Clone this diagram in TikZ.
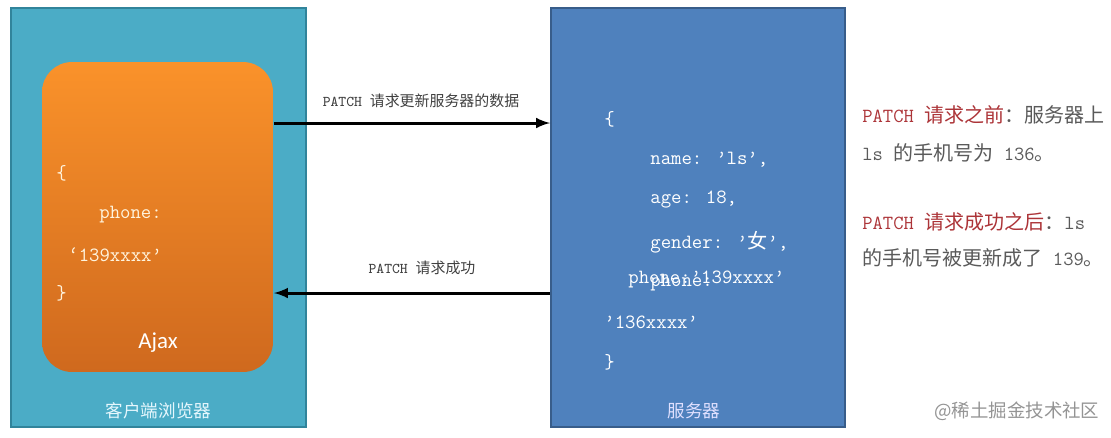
\documentclass[tikz,border=0pt]{standalone}
\usepackage{fontspec}
\newfontfamily\zhfont{Noto Sans CJK SC}
\newfontfamily\calfont{Carlito}
\usepackage{xcolor}
\usepackage{tikz}
\usetikzlibrary{shapes,arrows,positioning}

\definecolor{clientblue}{RGB}{75,172,198}
\definecolor{clientedge}{RGB}{49,132,155}
\definecolor{serverblue}{RGB}{79,129,189}
\definecolor{serveredge}{RGB}{56,93,138}
\definecolor{ajaxtop}{RGB}{250,146,42}
\definecolor{ajaxbottom}{RGB}{207,105,30}
\definecolor{notered}{RGB}{172,52,56}
\definecolor{notegray}{RGB}{90,90,90}
\definecolor{cream}{RGB}{255,244,222}

\newcommand\zhtext[1]{{\zhfont #1}}

\begin{document}
\begin{tikzpicture}[
        x=0.02cm, y=-0.02cm,
        box/.style={
            line width=0.4mm,
            inner sep=0
        },
        boxname/.style={
            text=white!90!cyan,
            font=\zhfont\fontsize{10}{12}\selectfont
        },
        code/.style={
            anchor=west,
            inner sep=0,
            text=white,
            font=\ttfamily\fontsize{11.5}{14}\selectfont
        },
        flow/.style={
            -latex,
            line width=0.6mm
        },
        flowlabel/.style={
            text=black!75,
            font=\fontsize{8.5}{10}\selectfont
        },
        note/.style={
            anchor=west,
            inner sep=0,
            text=notegray,
            font=\fontsize{11.4}{14}\selectfont
        }
    ]
                \useasboundingbox (0,0) rectangle (1111,437);

                % client side
                \node[
                    box,
                    draw=clientedge,
                    fill=clientblue,
                    minimum width=5.9cm,
                    minimum height=8.38cm
                    ] (client) at (158.5,217.5) {};
                \node[boxname] (clientname) at (158.5,411) {客户端浏览器};

                \node[
                    box,
                    rounded corners=0.6cm,
                    top color=ajaxtop,
                    bottom color=ajaxbottom,
                    minimum width=4.62cm,
                    minimum height=6.2cm
                    ] (ajax) at (157.5,217) {};
                \node[text=white, font=\calfont\fontsize{13}{15}\selectfont] (ajaxname) at (158,343) {Ajax};

                \node[code, text=cream] (lopen) at (56,173) {\{};
                \node[code, text=cream] (lphone) at (99,215) {phone:};
                \node[code, text=cream] (lnumber) at (68,255) {‘139xxxx’};
                \node[code, text=cream] (lclose) at (56,293) {\}};

                % server side
                \node[
                    box,
                    draw=serveredge,
                    fill=serverblue,
                    minimum width=5.88cm,
                    minimum height=8.38cm
                    ] (server) at (698,217.5) {};
                \node[boxname, text=white!88!blue] (servername) at (694,411) {服务器};

                \node[code] (sopen) at (604,119) {\{};
                \node[code] (sname) at (650,160) {name: ’ls’,};
                \node[code] (sage) at (650,200) {age: 18,};
                \node[code] (sgender) at (650,242) {gender: ’\zhtext{女}’,};
                \node[code] (snewphone) at (628,279) {phone:’139xxxx’};
                \node[code] (soldphone) at (650,283) {phone:};
                \node[code] (soldnumber) at (604,322) {’136xxxx’};
                \node[code] (sclose) at (604,362) {\}};

                % requests
                \draw[flow] (ajax.east |- 0,123) to (server.west |- 0,123);
                \node[flowlabel] (request) at (421,101) {\texttt{PATCH }\zhtext{请求更新服务器的数据}};

                \draw[flow] (server.west |- 0,293) to (ajax.east |- 0,293);
                \node[flowlabel] (response) at (422,268) {\texttt{PATCH }\zhtext{请求成功}};

                % notes
                \node[note] (before) at (862,115) {\textcolor{notered}{\texttt{PATCH }\zhtext{请求之前}}\zhtext{：服务器上}};
                \node[note] (beforephone) at (862,153) {\texttt{ls }\zhtext{的手机号为}\texttt{ 136}\zhtext{。}};
                \node[note] (after) at (862,222) {\textcolor{notered}{\texttt{PATCH }\zhtext{请求成功之后}}\zhtext{：}\texttt{ls}};
                \node[note] (afterphone) at (862,258) {\zhtext{的手机号被更新成了}\texttt{ 139}\zhtext{。}};

                \node[anchor=west, inner sep=0, text=black!42, font=\zhfont\fontsize{10.5}{12}\selectfont] (mark) at (934,411) {@稀土掘金技术社区};

\end{tikzpicture}
\end{document}
